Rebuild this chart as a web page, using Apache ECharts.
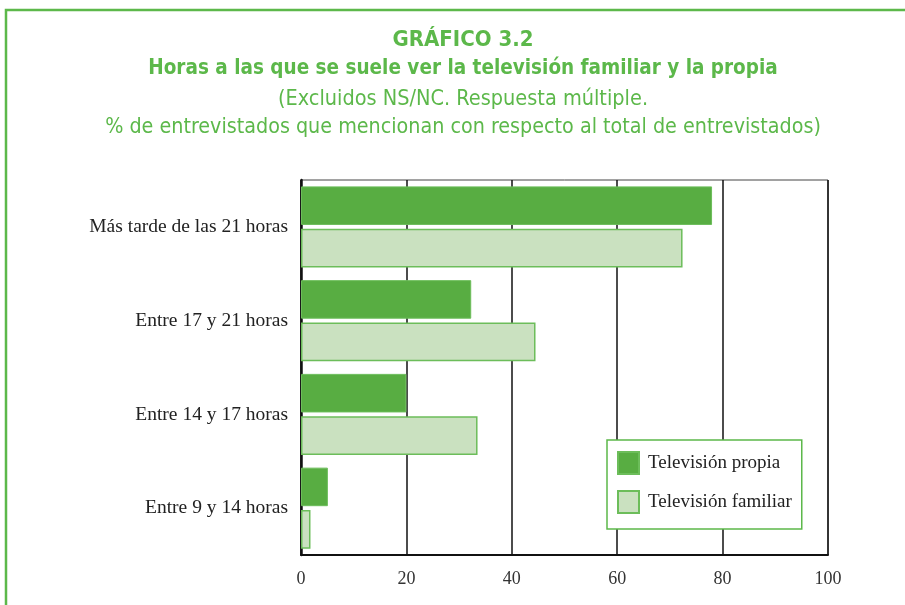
<!DOCTYPE html>
<html>
<head>
<meta charset="utf-8">
<script src="https://cdn.jsdelivr.net/npm/echarts@6/dist/echarts.min.js"></script>
<style>html,body{margin:0;padding:0;background:#fff;}#c{width:905px;height:605px;}</style>
</head>
<body>
<div id="c"></div>
<script>
var categories = ['Más tarde de las 21 horas', 'Entre 17 y 21 horas', 'Entre 14 y 17 horas', 'Entre 9 y 14 horas'];
var propia = [78, 32.3, 20, 5.1];
var familiar = [72.4, 44.5, 33.5, 1.8];
var xTicks = [0, 20, 40, 60, 80, 100];
var seriesNames = ['Televisión propia', 'Televisión familiar'];
var titleLines = [
  'GRÁFICO 3.2',
  'Horas a las que se suele ver la televisión familiar y la propia',
  '(Excluidos NS/NC. Respuesta múltiple.',
  '% de entrevistados que mencionan con respecto al total de entrevistados)'
];

var green = '#5cb84a';
var titleFont = '"DejaVu Sans Condensed", "DejaVu Sans", sans-serif';
var serif = '"Liberation Serif", "DejaVu Serif", serif';

var titleStyles = [
  {y: 40, font: 'bold 22px ' + titleFont},
  {y: 69, font: 'bold 20.5px ' + titleFont},
  {y: 99, font: 'normal 21.5px ' + titleFont},
  {y: 127, font: 'normal 21.3px ' + titleFont}
];

var graphics = [{
  type: 'rect', shape: {x: 6, y: 10, width: 1000, height: 1000},
  style: {fill: 'none', stroke: green, lineWidth: 2.5}, silent: true
}];
titleLines.forEach(function (t, i) {
  graphics.push({
    type: 'text', x: 463, y: titleStyles[i].y, silent: true,
    style: {text: t, font: titleStyles[i].font, fill: green,
      align: 'center', verticalAlign: 'middle', textAlign: 'center', textVerticalAlign: 'middle'}
  });
});

var chart = echarts.init(document.getElementById('c'), null, {renderer: 'canvas'});
chart.setOption({
  backgroundColor: '#fff',
  animation: false,
  graphic: graphics,
  legend: {
    orient: 'vertical', left: 607, top: 440,
    padding: [11, 10, 15, 10],
    itemWidth: 21, itemHeight: 22, itemGap: 15,
    borderColor: green, borderWidth: 1.5, backgroundColor: '#fff',
    icon: 'rect',
    textStyle: {fontFamily: serif, fontSize: 19, lineHeight: 22, color: '#222', padding: [0, 0, 0, 4]},
    data: seriesNames
  },
  grid: {left: 301, right: 77, top: 180, bottom: 50, show: true, borderColor: '#444', borderWidth: 1, containLabel: false},
  xAxis: {
    type: 'value', min: 0, max: 100, interval: 20,
    axisLine: {show: true, lineStyle: {color: '#111', width: 2}},
    axisTick: {show: false},
    splitLine: {show: true, lineStyle: {color: '#111', width: 1.5}},
    axisLabel: {fontFamily: serif, fontSize: 18, color: '#333', margin: 15,
      formatter: function (v) { return xTicks.indexOf(v) >= 0 ? String(v) : ''; }}
  },
  yAxis: {
    type: 'category', data: categories, inverse: true,
    axisLine: {show: true, lineStyle: {color: '#111', width: 2.5}},
    axisTick: {show: false},
    axisLabel: {fontFamily: serif, fontSize: 19.5, color: '#222', margin: 13}
  },
  series: [
    {name: seriesNames[0], type: 'bar', data: propia, barCategoryGap: '13.6%', barGap: '10%',
      itemStyle: {color: '#58ad42', borderColor: '#6cbd5a', borderWidth: 1}},
    {name: seriesNames[1], type: 'bar', data: familiar,
      itemStyle: {color: '#cae1c0', borderColor: '#6cbd5a', borderWidth: 1.5}}
  ]
});
</script>
</body>
</html>
